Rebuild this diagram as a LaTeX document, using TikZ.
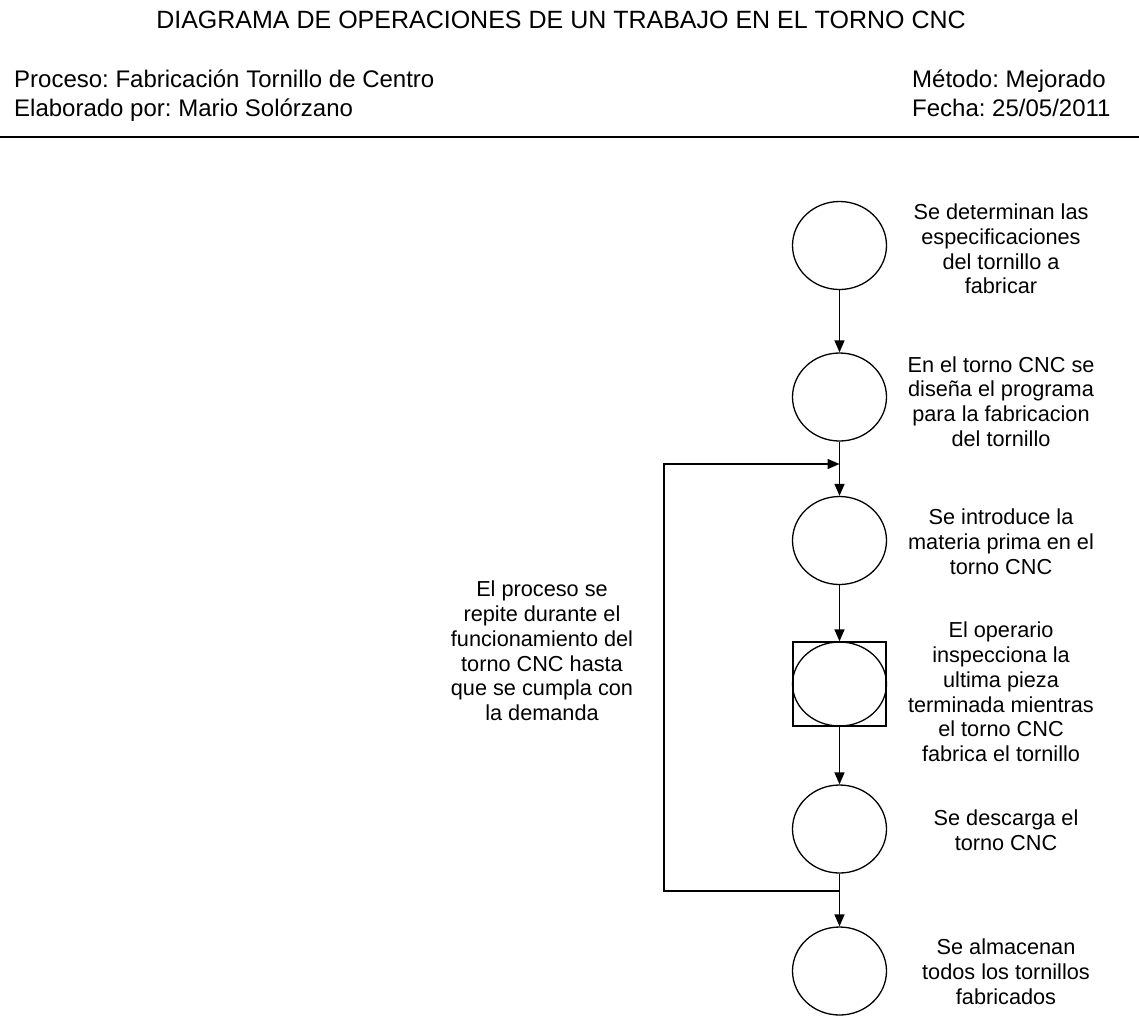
\documentclass[tikz,border=0pt]{standalone}
\usepackage{fontspec}
\setmainfont{Liberation Sans}
\usetikzlibrary{arrows.meta, shapes.geometric}
\frenchspacing

\tikzset{
  oper/.style={draw, ellipse, line width=1.3pt, minimum width=94pt, minimum height=88pt, inner sep=0pt},
  insp/.style={draw, line width=1.3pt, minimum width=93pt, minimum height=84pt, inner sep=0pt},
  flow/.style={line width=1.5pt, -{Triangle[length=12pt,width=10pt]}},
  note/.style={align=center, inner sep=0pt, font=\fontsize{21.7pt}{24.8pt}\selectfont},
  head/.style={anchor=base west, inner sep=0pt, font=\fontsize{24pt}{29pt}\selectfont}
}

\begin{document}
\begin{tikzpicture}[x=1pt,y=-1pt]
\useasboundingbox (0,0) rectangle (1139,1015);

%Title and header
\node[anchor=base, inner sep=0pt, font=\fontsize{25pt}{30pt}\selectfont] (title) at (561,28.3){DIAGRAMA DE OPERACIONES DE UN TRABAJO EN EL TORNO CNC};
\node[head] (proc) at (14,87.3){Proceso: Fabricación Tornillo de Centro};
\node[head] (elab) at (14,116.7){Elaborado por: Mario Solórzano};
\node[head] (meth) at (912,87.3){Método: Mejorado};
\node[head] (date) at (912,116.7){Fecha: 25/05/2011};
\coordinate (ruleL) at (0,137);
\coordinate (ruleR) at (1139,137);
\draw[line width=2.5pt] (ruleL) -- (ruleR);

%Operations
\node[oper] (spec) at (839.5,245.5){};
\node[oper] (prog) at (839.5,397){};
\node[oper] (load) at (839.5,540.5){};
\node[insp] (check) at (839.5,684){};
\node[oper, minimum height=84pt] (turn) at (839.5,684){};
\node[oper] (unload) at (839.5,829){};
\node[oper] (store) at (839.5,971){};

%Flow between operations
\coordinate (merge) at (839.5,464);
\coordinate (split) at (839.5,891);
\draw[flow] (spec) -- (prog);
\draw[flow] (prog) -- (load);
\draw[flow] (load) -- (check);
\draw[flow] (check) -- (unload);
\draw[flow] (unload) -- (store);
\draw[flow] (split) -- ++(-175.5,0) |- (merge);

%Descriptions
\node[note] (specTxt) at (1001,249){Se determinan las\\especificaciones\\del tornillo a\\fabricar};
\node[note] (progTxt) at (1001,401.5){En el torno CNC se\\diseña el programa\\para la fabricacion\\del tornillo};
\node[note] (loadTxt) at (1001,542){Se introduce la\\materia prima en el\\torno CNC};
\node[note] (checkTxt) at (1001,692){El operario\\inspecciona la\\ultima pieza\\terminada mientras\\el torno CNC\\fabrica el tornillo};
\node[note] (unloadTxt) at (1006,830){Se descarga el\\torno CNC};
\node[note] (storeTxt) at (1006,972){Se almacenan\\todos los tornillos\\fabricados};
\node[note] (loopTxt) at (542,651){El proceso se\\repite durante el\\funcionamiento del\\torno CNC hasta\\que se cumpla con\\la demanda};

\end{tikzpicture}
\end{document}
